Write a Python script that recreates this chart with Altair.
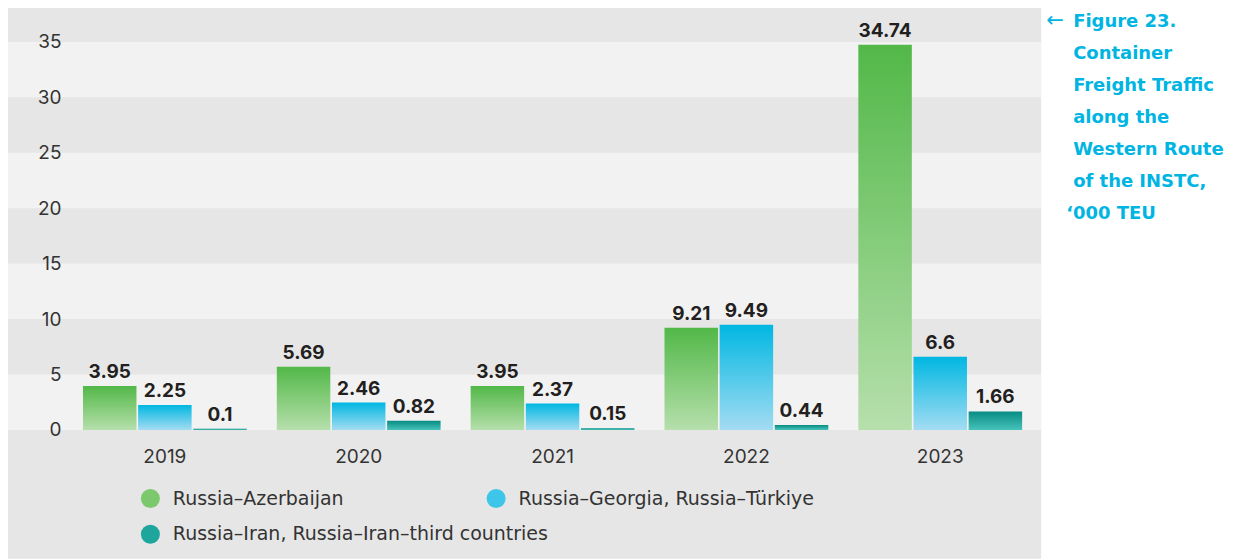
import altair as alt
import pandas as pd

years = ["2019", "2020", "2021", "2022", "2023"]
series = [
    "Russia–Azerbaijan",
    "Russia–Georgia, Russia–Türkiye",
    "Russia–Iran, Russia–Iran–third countries",
]
azerbaijan = [3.95, 5.69, 3.95, 9.21, 34.74]
georgia = [2.25, 2.46, 2.37, 9.49, 6.6]
iran = [0.1, 0.82, 0.15, 0.44, 1.66]

y_ticks = [0, 5, 10, 15, 20, 25, 30, 35]
band_lo = [0, 10, 20, 30]
band_hi = [5, 15, 25, 35]

title_lines = ["Figure 23.", "Container", "Freight Traffic", "along the",
               "Western Route", "of the INSTC,"]
title_last = "‘000 TEU"

FONT = "Inter"
TFONT = "DejaVu Sans"
W, H = 970, 422

rows = []
for vals, s in zip([azerbaijan, georgia, iran], series):
    for yr, v in zip(years, vals):
        rows.append({"year": yr, "series": s, "value": v})
df = pd.DataFrame(rows)
bands_df = pd.DataFrame({"lo": band_lo, "hi": band_hi})

def grad(top, bottom):
    return alt.LinearGradient(
        gradient="linear", x1=0, x2=0, y1=0, y2=1,
        stops=[alt.GradientStop(color=top, offset=0),
               alt.GradientStop(color=bottom, offset=1)])

grads = [grad("#52b848", "#b6dfac"), grad("#00b7e2", "#a3dcf2"), grad("#078c83", "#47c2ba")]
solid = ["#7cc86d", "#3ec5ea", "#1ea69d"]

y_scale = alt.Scale(domain=[0, 38.04], nice=False, zero=True)
y_axis = alt.Axis(values=y_ticks, title=None, ticks=False, domain=False, grid=False,
                  labelPadding=7, labelFontSize=19, labelColor="#333333",
                  labelFont=FONT, zindex=1)
x_scale = alt.Scale(domain=years, paddingInner=0.155, paddingOuter=0.0775)
x_axis = alt.Axis(title=None, ticks=False, domain=False, grid=False, labelAngle=0,
                  labelPadding=18, labelFontSize=19, labelColor="#333333",
                  labelFont=FONT, zindex=1)
xo_scale = alt.Scale(domain=series, paddingInner=0.03, paddingOuter=0)

panel = alt.Chart(pd.DataFrame({"a": [0]})).mark_rect(color="#e6e6e6").encode(
    x=alt.value(-62), x2=alt.value(974), y=alt.value(-8), y2=alt.value(551))

bands = alt.Chart(bands_df).mark_rect(color="#f2f2f2").encode(
    y=alt.Y("lo:Q", scale=y_scale, axis=y_axis),
    y2="hi:Q",
    x=alt.value(-62), x2=alt.value(974))

base = alt.Chart(df)
enc = dict(
    x=alt.X("year:N", scale=x_scale, axis=x_axis, sort=years),
    xOffset=alt.XOffset("series:N", scale=xo_scale, sort=series),
    y=alt.Y("value:Q", scale=y_scale, axis=y_axis),
)

bar_layers = []
for s, g in zip(series, grads):
    bar_layers.append(
        base.transform_filter(alt.datum.series == s).mark_bar(fill=g).encode(**enc))

legend_common = dict(title=None, orient="none", direction="horizontal",
                     symbolSize=361, symbolType="circle", symbolStrokeWidth=0,
                     labelOffset=13, labelFontSize=19, labelFont=TFONT,
                     labelColor="#333333", labelLimit=600, padding=0, zindex=1)

legend_a = base.transform_filter(alt.datum.series != series[2]).mark_point(
    filled=True, opacity=0, shape="circle").encode(
    **enc,
    color=alt.Color("series:N", sort=series[:2],
                    scale=alt.Scale(domain=series[:2], range=solid[:2]),
                    legend=alt.Legend(legendX=73, legendY=481, columns=2,
                                      columnPadding=142, **legend_common)))

legend_b = base.transform_filter(alt.datum.series == series[2]).mark_point(
    filled=True, opacity=0, shape="circle").encode(
    **enc,
    fill=alt.Fill("series:N",
                  scale=alt.Scale(domain=series[2:], range=solid[2:]),
                  legend=alt.Legend(legendX=73, legendY=517, **legend_common)))

labels = base.mark_text(font=FONT, fontSize=19, fontWeight="bold", color="#231f20",
                        baseline="alphabetic", dy=-8).encode(
    **enc, text=alt.Text("value:Q"))

title_main = alt.Chart(pd.DataFrame({"a": [0]})).mark_text(
    align="left", baseline="alphabetic", lineHeight=32, font=TFONT, fontSize=18,
    fontWeight="bold", color="#00b5e2").encode(
    x=alt.value(1006), y=alt.value(19), text=alt.value(title_lines))

title_arrow = alt.Chart(pd.DataFrame({"a": [0]})).mark_text(
    align="left", baseline="alphabetic", font=TFONT, fontSize=21,
    color="#00b5e2").encode(
    x=alt.value(979), y=alt.value(19), text=alt.value("←"))

title_tail = alt.Chart(pd.DataFrame({"a": [0]})).mark_text(
    align="left", baseline="alphabetic", font=TFONT, fontSize=18,
    fontWeight="bold", color="#00b5e2").encode(
    x=alt.value(999), y=alt.value(19 + 6 * 32), text=alt.value(title_last))

chart = alt.layer(panel, bands, *bar_layers, legend_a, legend_b, labels,
                  title_main, title_arrow, title_tail).properties(
    width=W, height=H,
    autosize=alt.AutoSizeParams(type="none"),
    padding={"left": 60, "top": 0, "right": 190, "bottom": 129},
    background="white",
).configure_view(stroke=None)

chart.save("out.html", embed_options={"renderer": "svg", "actions": False})
